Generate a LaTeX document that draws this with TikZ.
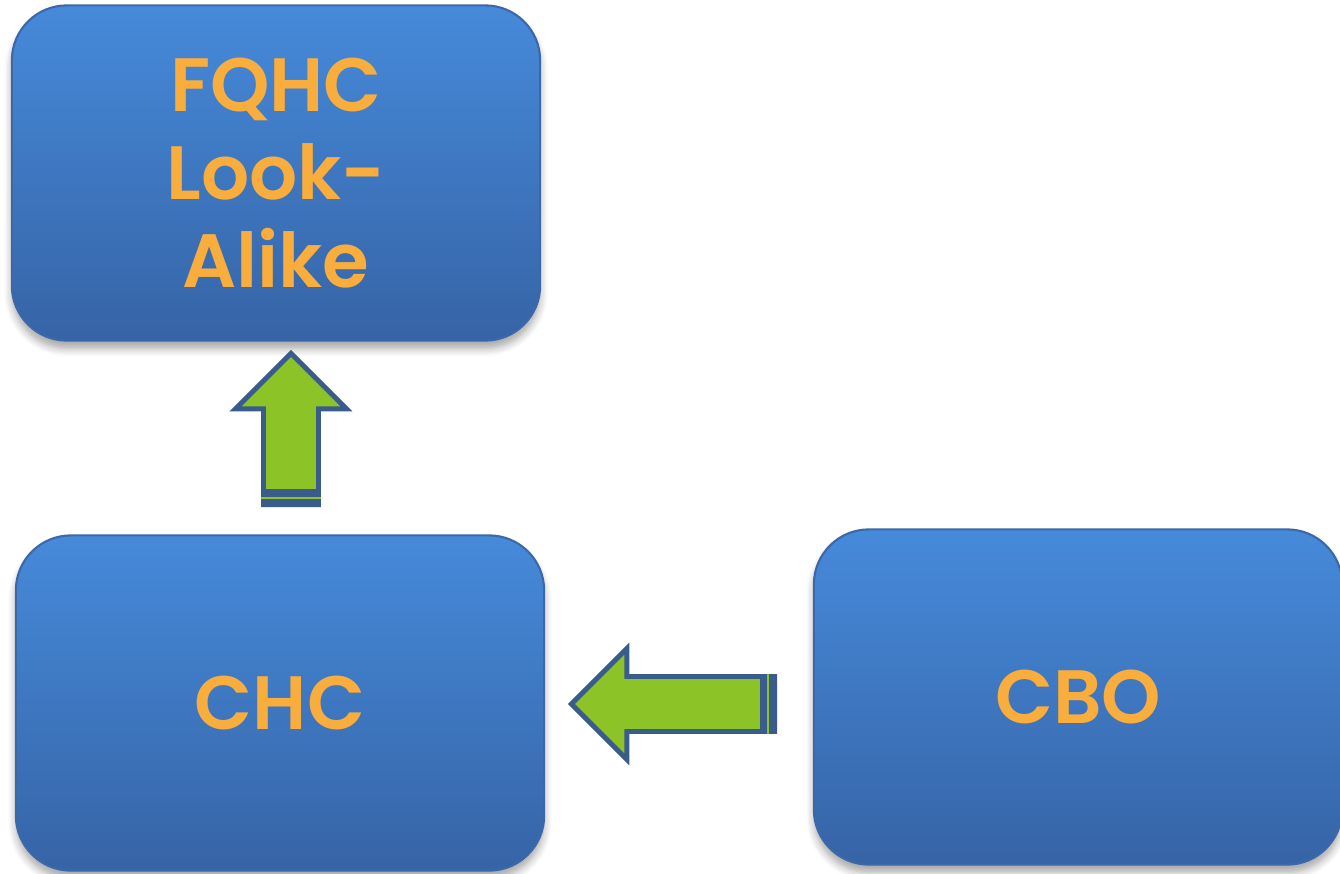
\documentclass[tikz,border=0pt]{standalone}
\usepackage{fontspec}
\setmainfont{Poppins}[BoldFont={Poppins SemiBold}]
\usetikzlibrary{shapes.arrows,shadows.blur,calc}
\definecolor{BoxTop}{RGB}{70,138,218}
\definecolor{BoxBottom}{RGB}{54,100,166}
\definecolor{BoxEdge}{RGB}{60,104,170}
\definecolor{Label}{RGB}{249,173,60}
\definecolor{ArrowFill}{RGB}{140,196,40}
\definecolor{ArrowEdge}{RGB}{58,92,140}
\tikzstyle{Org}=[rectangle, rounded corners=0.55cm, minimum width=5.28cm, minimum height=3.35cm, top color=BoxTop, bottom color=BoxBottom, draw=BoxEdge, line width=0.6pt, text=Label, font=\fontsize{21.5}{25}\selectfont\bfseries, align=center, blur shadow={shadow xshift=0pt, shadow yshift=-0.8mm, shadow blur steps=6, shadow opacity=35}]
\tikzstyle{Flow}=[single arrow, single arrow head extend=0.28cm, inner xsep=0pt, inner ysep=0.25cm, minimum width=1.07cm, fill=ArrowFill, draw=ArrowEdge, line width=1.4pt]

\begin{document}
\begin{tikzpicture}[x=0.01cm, y=-0.01cm]
    \useasboundingbox (0,0) rectangle (1340,873);
    \path
    (276,173) node[Org] (fqhc) {FQHC\\Look-\\Alike}
    (280,703) node[Org] (chc) {CHC}
    (1078,697) node[Org] (cbo) {CBO};
    \path
    (291,507) node[Flow, rotate=90, anchor=tail, minimum height=1.51cm] (up) {}
    (777,704) node[Flow, rotate=180, anchor=tail, minimum height=2.03cm] (left) {};

    % double bar at the tail ends
    \fill[ArrowEdge] (up.before tail) rectangle ($(up.after tail)+(0,-18)$);
    \draw[ArrowFill, line width=0.6pt] ($(up.before tail)+(0,-9)$) -- ($(up.after tail)+(0,-9)$);
    \fill[ArrowEdge] (left.before tail) rectangle ($(left.after tail)+(-17,0)$);
    \draw[ArrowFill, line width=0.6pt] ($(left.before tail)+(-9,0)$) -- ($(left.after tail)+(-9,0)$);
\end{tikzpicture}
\end{document}
